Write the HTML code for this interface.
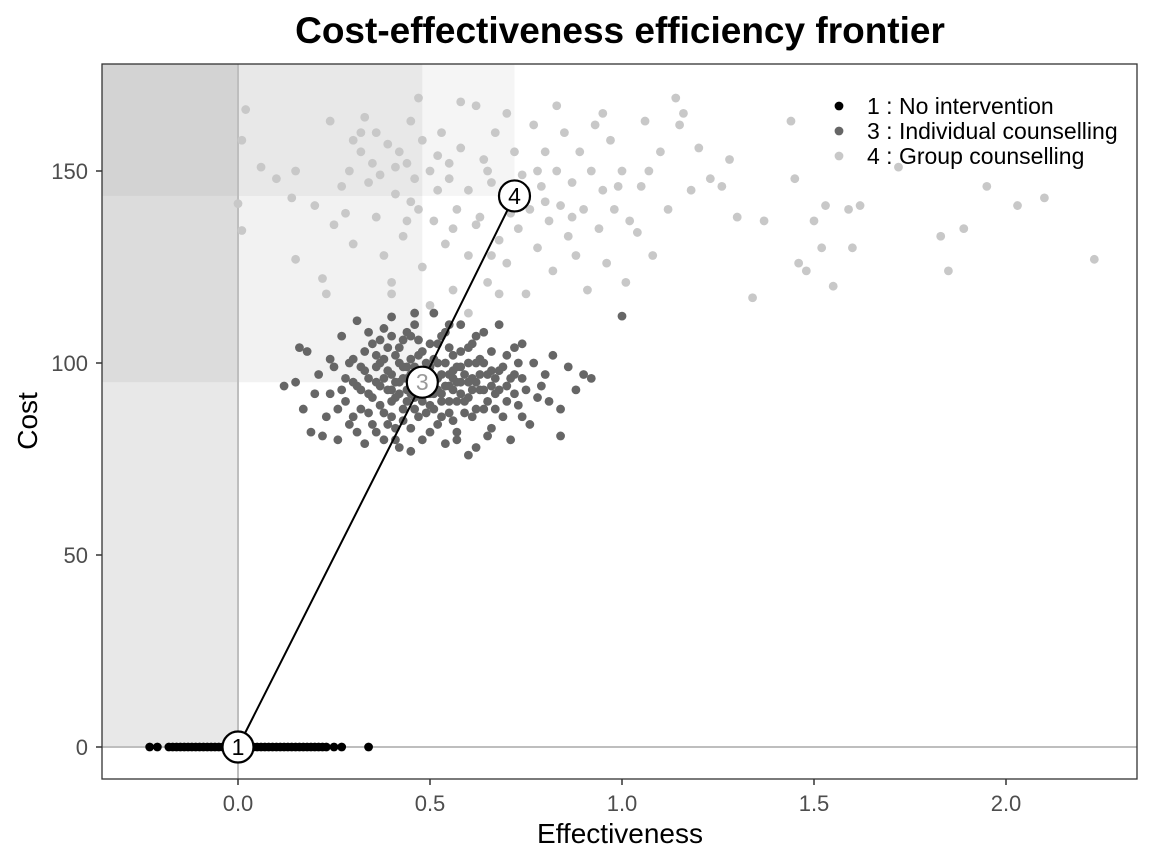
<!DOCTYPE html>
<html><head><meta charset="utf-8"><style>
body{margin:0;background:#fff;}
svg{display:block;font-family:"Liberation Sans",Arial,sans-serif;}
</style></head><body>
<svg id="chart" width="1152" height="865">
<text x="620" y="43" text-anchor="middle" font-size="37" font-weight="bold">Cost-effectiveness efficiency frontier</text>
<text x="620" y="843" text-anchor="middle" font-size="28">Effectiveness</text>
<text transform="translate(37,421) rotate(-90)" text-anchor="middle" font-size="28">Cost</text>
<g id="shade"></g>
<g id="grid"></g>
<g id="pts"></g>
<g id="front"></g>
<g id="axes"></g>
<g id="legend"></g>
</svg>
<script>
const xTicks=[0,0.5,1.0,1.5,2.0];
const xTickLabels=["0.0","0.5","1.0","1.5","2.0"];
const yTicks=[0,50,100,150];
const yTickLabels=["0","50","100","150"];
const seriesNames=["1 : No intervention","3 : Individual counselling","4 : Group counselling"];
const frontierIds=["1","3","4"];
const frontierX=[0,0.48,0.72];
const frontierY=[0,95,143.5];
const s1x=[-0.23,-0.21,-0.18,-0.17,-0.16,-0.15,-0.14,-0.13,-0.12,-0.11,-0.1,-0.09,-0.08,-0.07,-0.06,-0.05,-0.04,-0.03,-0.02,-0.01,0,0.01,0.02,0.03,0.04,0.05,0.06,0.07,0.08,0.09,0.1,0.11,0.12,0.13,0.14,0.15,0.16,0.17,0.18,0.19,0.2,0.21,0.22,0.23,0.25,0.27,0.34];
const s1y=s1x.map(()=>0);
const s3=[[0.12,94],[0.15,95],[0.16,104],[0.17,88],[0.18,103],[0.19,82],[0.21,97],[0.22,81],[0.23,86],[0.24,92],[0.25,99],[0.26,80],[0.27,107],[0.28,90],[0.29,84],[0.3,95],[0.3,101],[0.31,111],[0.32,88],[0.33,79],[0.33,98],[0.34,92],[0.35,105],[0.35,84],[0.36,95],[0.37,100],[0.37,89],[0.38,109],[0.38,80],[0.39,93],[0.4,97],[0.4,86],[0.41,102],[0.41,91],[0.42,95],[0.42,78],[0.43,106],[0.43,88],[0.44,99],[0.44,93],[0.45,83],[0.45,97],[0.46,110],[0.46,91],[0.47,102],[0.47,86],[0.48,98],[0.48,80],[0.49,93],[0.5,105],[0.5,89],[0.51,96],[0.51,113],[0.52,84],[0.52,100],[0.53,92],[0.54,108],[0.54,79],[0.55,97],[0.55,87],[0.56,102],[0.56,93],[0.57,82],[0.58,99],[0.58,110],[0.59,90],[0.6,95],[0.6,104],[0.61,86],[0.62,100],[0.62,78],[0.63,93],[0.64,108],[0.64,88],[0.65,97],[0.66,83],[0.66,103],[0.67,92],[0.68,110],[0.68,98],[0.69,86],[0.7,94],[0.7,102],[0.71,80],[0.72,97],[0.73,89],[0.74,105],[0.75,93],[0.76,84],[0.77,100],[0.78,91],[0.8,97],[0.82,102],[0.84,88],[0.86,99],[0.88,93],[0.9,97],[0.92,96],[0.84,81],[0.6,76],[0.45,77],[0.53,107],[0.39,104],[0.36,99],[0.43,96],[0.46,95],[0.5,94],[0.52,96],[0.55,94],[0.57,95],[0.49,100],[0.44,90],[0.4,93],[0.58,92],[0.47,94],[0.53,90],[0.38,96],[0.42,100],[0.51,92],[0.56,98],[0.61,96],[0.63,101],[0.66,94],[0.34,96],[0.32,93],[1.0,112.2],
[0.31,94],[0.32,99],[0.33,103],[0.34,87],[0.35,91],[0.36,102],[0.37,94],[0.38,87],[0.38,101],[0.39,98],[0.39,84],[0.4,107],[0.4,90],[0.41,95],[0.41,83],[0.42,92],[0.42,104],[0.43,99],[0.43,85],[0.44,96],[0.44,108],[0.45,92],[0.45,101],[0.46,88],[0.46,99],[0.47,97],[0.47,106],[0.48,90],[0.48,103],[0.49,96],[0.49,87],[0.5,99],[0.5,92],[0.51,101],[0.51,88],[0.52,93],[0.52,105],[0.53,97],[0.53,86],[0.54,100],[0.54,94],[0.55,90],[0.55,104],[0.56,96],[0.56,85],[0.57,99],[0.57,90],[0.58,95],[0.58,103],[0.59,97],[0.59,87],[0.6,100],[0.6,91],[0.61,93],[0.61,105],[0.62,95],[0.62,88],[0.63,97],[0.64,93],[0.64,100],[0.65,90],[0.66,98],[0.67,96],[0.67,88],[0.68,93],[0.69,99],[0.7,90],[0.71,96],[0.72,92],[0.73,100],[0.74,96],[0.28,96],[0.29,100],[0.27,93],[0.26,88],[0.3,86],[0.31,82],[0.37,106],[0.45,107],[0.55,110],[0.62,107],[0.72,104],[0.79,94],[0.81,90],[0.36,82],[0.41,80],[0.5,82],[0.57,80],[0.65,81],[0.74,86],[0.2,92],[0.24,101],[0.46,113],[0.4,112],[0.34,108]];
const s3x=s3.map(p=>p[0]);
const s3y=s3.map(p=>p[1]);
const s4=[[0.0,141.5],[0.01,158],[0.02,166],[0.01,134.5],[0.06,151],[0.1,148],[0.14,143],[0.15,150],[0.15,127],[0.2,141],[0.22,122],[0.23,118],[0.25,136],[0.27,146],[0.28,139],[0.3,131],[0.3,158],[0.32,155],[0.32,160],[0.34,147],[0.35,152],[0.36,138],[0.37,149],[0.38,128],[0.39,157],[0.4,121],[0.41,144],[0.42,155],[0.43,133],[0.44,152],[0.45,163],[0.46,148],[0.47,140],[0.48,125],[0.48,158],[0.5,150],[0.51,137],[0.52,145],[0.53,160],[0.54,131],[0.55,152],[0.56,119],[0.57,140],[0.58,156],[0.6,145],[0.6,128],[0.62,167],[0.63,138],[0.64,153],[0.65,121],[0.66,147],[0.67,160],[0.68,132],[0.69,142],[0.7,126],[0.72,155],[0.73,135],[0.74,149],[0.75,118],[0.76,140],[0.77,162],[0.78,130],[0.79,146],[0.8,155],[0.81,137],[0.82,124],[0.83,150],[0.84,141],[0.85,160],[0.86,133],[0.87,147],[0.88,128],[0.89,155],[0.9,140],[0.91,119],[0.92,150],[0.93,162],[0.94,135],[0.95,145],[0.96,126],[0.97,158],[0.98,140],[1.0,150],[1.01,121],[1.02,137],[1.04,134],[1.05,146],[1.06,163],[1.08,128],[1.1,155],[1.12,140],[1.14,169],[1.15,162],[1.16,165],[1.18,145],[1.2,156],[1.23,148],[1.26,146],[1.28,153],[1.3,138],[1.34,117],[1.37,137],[1.44,163],[1.45,148],[1.46,126],[1.48,124],[1.5,137],[1.52,130],[1.53,141],[1.55,120],[1.59,140],[1.6,130],[1.62,141],[1.72,151],[1.83,133],[1.85,124],[1.89,135],[1.95,146],[2.03,141],[2.1,143],[2.23,127],[0.24,163],[0.33,164],[0.47,169],[0.58,168],[0.7,165],[0.83,167],[0.95,165],[0.4,118],[0.5,115],[0.6,113],[0.68,118],[0.45,142],[0.55,148],[0.65,150],[0.75,145],[0.8,142],[0.36,160],[0.41,151],[0.52,154],[0.62,136],[0.71,139],[0.78,150],[0.87,138],[0.99,146],[1.07,150],[0.29,150],[0.44,137],[0.56,135],[0.66,128]];
const s4x=s4.map(p=>p[0]);
const s4y=s4.map(p=>p[1]);

const L=102,R=1137,T=64,B=779;
const sx=v=>238+v*384;
const sy=v=>747-v*3.84;
const NS="http://www.w3.org/2000/svg";
function mk(parent,tag,attrs){const e=document.createElementNS(NS,tag);for(const k in attrs)e.setAttribute(k,attrs[k]);document.getElementById(parent).appendChild(e);return e;}

const regions=[[0,0],[frontierX[1],frontierY[1]],[frontierX[2],frontierY[2]]];
const regionOpacity=[0.09,0.052,0.041];
regions.forEach((r,i)=>{
  const e=mk('shade','rect',{x:L,y:T,width:sx(r[0])-L,height:sy(r[1])-T,fill:'#000','fill-opacity':regionOpacity[i]});
  
  
});
let e;
e=mk('grid','line',{x1:sx(0),x2:sx(0),y1:T,y2:B,stroke:'#bebebe','stroke-width':2});


e=mk('grid','line',{x1:L,x2:R,y1:sy(0),y2:sy(0),stroke:'#bebebe','stroke-width':2});



function drawSeries(xs,ys,color,name){
  xs.forEach((x,i)=>{
    const c=mk('pts','circle',{cx:sx(x),cy:sy(ys[i]),r:4.4,fill:color});
    
    
  });
}
drawSeries(s4x,s4y,'#c8c8c8','group-counselling');
drawSeries(s3x,s3y,'#666666','individual-counselling');
drawSeries(s1x,s1y,'#000000','no-intervention');

e=mk('front','polyline',{points:frontierX.map((x,i)=>sx(x)+','+sy(frontierY[i])).join(' '),fill:'none',stroke:'#000','stroke-width':2});


const labColors=['#000','#999','#000'];
frontierX.forEach((x,i)=>{
  const c=mk('front','circle',{cx:sx(x),cy:sy(frontierY[i]),r:15.5,fill:'#fff',stroke:'#000','stroke-width':2.2});
  
  
  const t=mk('front','text',{x:sx(x),y:sy(frontierY[i])+8,'text-anchor':'middle','font-size':23,fill:labColors[i]});
  t.textContent=frontierIds[i];
  
  
});

e=mk('axes','rect',{x:L,y:T,width:R-L,height:B-T,fill:'none',stroke:'#333','stroke-width':1.3});


xTicks.forEach((v,i)=>{
  const l=mk('axes','line',{x1:sx(v),x2:sx(v),y1:B,y2:B+6,stroke:'#333','stroke-width':1.5});
  
  
  const t=mk('axes','text',{x:sx(v),y:811,'text-anchor':'middle','font-size':22,fill:'#4d4d4d'});
  t.textContent=xTickLabels[i];
  
  
});
yTicks.forEach((v,i)=>{
  const l=mk('axes','line',{x1:L-6,x2:L,y1:sy(v),y2:sy(v),stroke:'#333','stroke-width':1.5});
  
  
  const t=mk('axes','text',{x:L-14,y:sy(v)+8,'text-anchor':'end','font-size':22,fill:'#4d4d4d'});
  t.textContent=yTickLabels[i];
  
  
});
const legColors=['#000','#666','#c8c8c8'];
seriesNames.forEach((n,i)=>{
  const y=106+i*25;
  const c=mk('legend','circle',{cx:839,cy:y,r:4.4,fill:legColors[i]});
  
  
  const t=mk('legend','text',{x:867,y:y+8,'font-size':23,fill:'#000'});
  t.textContent=n;
  
  
});
</script>
</body></html>
